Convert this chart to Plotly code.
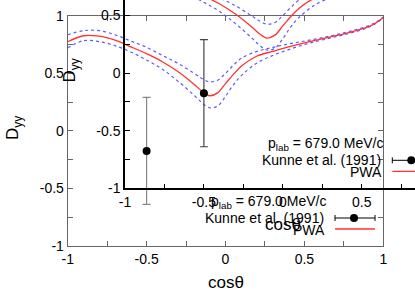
import plotly.graph_objects as go

# ---------------- data ----------------
cos_theta = [-1, -0.9, -0.8, -0.7, -0.6, -0.5, -0.4, -0.3, -0.2, -0.15, -0.1, -0.05,
             0, 0.05, 0.1, 0.2, 0.3, 0.4, 0.5, 0.6, 0.7, 0.8, 0.9, 0.95, 1]
pwa = [0.774, 0.826, 0.822, 0.787, 0.730, 0.670, 0.600, 0.513, 0.405, 0.345, 0.305, 0.33,
       0.41, 0.49, 0.56, 0.65, 0.69, 0.73, 0.765, 0.795, 0.826, 0.86, 0.90, 0.935, 0.985]
pwa_upper = [0.835, 0.87, 0.87, 0.835, 0.78, 0.725, 0.655, 0.585, 0.50, 0.455, 0.425, 0.44,
             0.50, 0.57, 0.63, 0.69, 0.725, 0.755, 0.78, 0.805, 0.835, 0.868, 0.91, 0.94, 0.99]
pwa_lower = [0.72, 0.783, 0.775, 0.74, 0.685, 0.615, 0.535, 0.43, 0.31, 0.245, 0.20, 0.215,
             0.30, 0.40, 0.48, 0.59, 0.655, 0.705, 0.75, 0.785, 0.818, 0.852, 0.895, 0.93, 0.985]

exp_x = [-0.5]
exp_y = [-0.174]
exp_err = [0.465]

tick_vals = [-1, -0.5, 0, 0.5, 1]
tick_text = ["-1", "-0.5", "0", "0.5", "1"]
legend_exp = "Kunne et al. (1991)"
legend_pwa = "PWA"
legend_title = "p<sub>lab</sub> = 679.0 MeV/c"

W, H = 415, 291
FONT = "Liberation Sans, Arial, sans-serif"


def px(x):
    return x / W


def py(y):
    return 1 - y / H


# back panel pixel box
BL, BR, BT, BB = 67.7, 383.3, 15.7, 246.0
# offset of front panel
DX, DY = 57.3, -57.7
FL, FB = BL + DX, BB + DY
xscale = (BR - BL) / 2.0
yscale = (BB - BT) / 2.0

fig = go.Figure()


def add_panel(xa, ya, err_color):
    fig.add_trace(go.Scatter(x=cos_theta, y=pwa_upper, mode="lines", xaxis=xa, yaxis=ya,
                             line=dict(color="rgb(90,90,255)", width=1.2, dash="dot", shape="spline"),
                             showlegend=False, hoverinfo="skip"))
    fig.add_trace(go.Scatter(x=cos_theta, y=pwa_lower, mode="lines", xaxis=xa, yaxis=ya,
                             line=dict(color="rgb(90,90,255)", width=1.2, dash="dot", shape="spline"),
                             showlegend=False, hoverinfo="skip"))
    fig.add_trace(go.Scatter(x=cos_theta, y=pwa, mode="lines", xaxis=xa, yaxis=ya,
                             line=dict(color="rgb(255,50,50)", width=1.3, shape="spline"),
                             showlegend=False, hoverinfo="skip"))
    fig.add_trace(go.Scatter(x=exp_x, y=exp_y, mode="markers", xaxis=xa, yaxis=ya,
                             marker=dict(color="black", size=8),
                             error_y=dict(type="data", array=exp_err, color=err_color,
                                          thickness=1.2, width=4),
                             showlegend=False, hoverinfo="skip"))


add_panel("x", "y", "#888")
add_panel("x2", "y2", "#444")

axis_common = dict(ticks="inside", ticklen=5, tickfont=dict(family=FONT, size=14, color="black"),
                   showgrid=False, zeroline=False, showline=True, automargin=False,
                   tickvals=tick_vals, ticktext=tick_text)

fig.update_layout(
    width=W, height=H, autosize=False,
    margin=dict(l=0, r=0, t=0, b=0, pad=0, autoexpand=False),
    paper_bgcolor="white", plot_bgcolor="rgba(0,0,0,0)",
    showlegend=False,
    xaxis=dict(domain=[px(BL), px(BR)], range=[-1, 1], anchor="y",
               linecolor="#666", tickcolor="#666", linewidth=1, mirror="allticks",
               minor=dict(dtick=0.25, ticks="inside", ticklen=5, tickcolor="#666"),
               **axis_common),
    yaxis=dict(domain=[py(BB), py(BT)], range=[-1, 1], anchor="x",
               linecolor="#666", tickcolor="#666", linewidth=1, mirror="allticks",
               minor=dict(dtick=0.25, ticks="inside", ticklen=5, tickcolor="#666"),
               **axis_common),
    xaxis2=dict(domain=[px(FL), 1], range=[-1, -1 + (W - FL) / xscale], anchor="y2",
                linecolor="black", tickcolor="black", linewidth=1.5,
                minor=dict(dtick=0.25, ticks="inside", ticklen=5, tickcolor="black"),
                **axis_common),
    yaxis2=dict(domain=[py(FB), 1], range=[-1, -1 + FB / yscale], anchor="x2",
                linecolor="black", tickcolor="black", linewidth=1.5,
                minor=dict(dtick=0.25, ticks="inside", ticklen=5, tickcolor="black"),
                **axis_common),
)

ann = []
shapes = []


def add_texts(ox, oy):
    # axis titles
    ann.append(dict(x=px(226 + ox), y=py(282 + oy), xref="paper", yref="paper",
                    xanchor="center", yanchor="middle",
                    text="cosθ", showarrow=False, font=dict(family=FONT, size=17, color="black")))
    ann.append(dict(x=px(14 + ox), y=py(128 + oy), xref="paper", yref="paper",
                    xanchor="center", yanchor="middle",
                    text="D<sub>yy</sub>", textangle=-90, showarrow=False,
                    font=dict(family=FONT, size=17, color="black")))
    # legend
    ann.append(dict(x=px(328 + ox), y=py(202 + oy), xref="paper", yref="paper",
                    xanchor="right", yanchor="middle",
                    text=legend_title, showarrow=False, font=dict(family=FONT, size=14, color="black")))
    ann.append(dict(x=px(326 + ox), y=py(218 + oy), xref="paper", yref="paper",
                    xanchor="right", yanchor="middle",
                    text=legend_exp, showarrow=False, font=dict(family=FONT, size=14, color="black")))
    ann.append(dict(x=px(327 + ox), y=py(230 + oy), xref="paper", yref="paper",
                    xanchor="right", yanchor="middle",
                    text=legend_pwa, showarrow=False, font=dict(family=FONT, size=14, color="black")))
    ly = 218 + oy
    shapes.append(dict(type="line", xref="paper", yref="paper", x0=px(335 + ox), x1=px(375 + ox),
                       y0=py(ly), y1=py(ly), line=dict(color="black", width=1)))
    for cx in (335 + ox, 375 + ox):
        shapes.append(dict(type="line", xref="paper", yref="paper", x0=px(cx), x1=px(cx),
                           y0=py(ly - 3), y1=py(ly + 3), line=dict(color="black", width=1)))
    shapes.append(dict(type="circle", xref="paper", yref="paper", x0=px(350 + ox), x1=px(358 + ox),
                       y0=py(ly + 4), y1=py(ly - 4), fillcolor="black", line=dict(color="black", width=0)))
    shapes.append(dict(type="line", xref="paper", yref="paper", x0=px(335 + ox), x1=px(375 + ox),
                       y0=py(229 + oy), y1=py(229 + oy), line=dict(color="rgb(255,50,50)", width=1.3)))


add_texts(0, 0)
add_texts(DX, DY)
fig.update_layout(annotations=ann, shapes=shapes)

fig.write_html("out.html", config={"responsive": False, "displayModeBar": False},
               post_script="document.body.style.margin='0px';document.body.style.overflow='hidden';")
